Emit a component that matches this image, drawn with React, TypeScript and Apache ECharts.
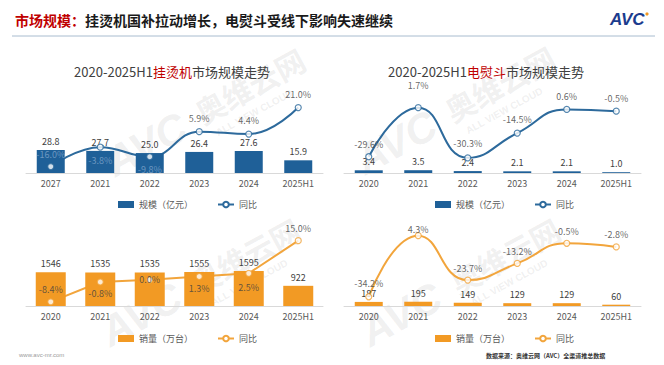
import React, { useEffect, useRef } from 'react';
import * as echarts from 'echarts';

// ---------- data ----------
const catsSteamerSize = ['2027', '2021', '2022', '2023', '2024', '2025H1'];
const catsOther = ['2020', '2021', '2022', '2023', '2024', '2025H1'];

const steamerSize = [28.8, 27.7, 25.0, 26.4, 27.6, 15.9];
const steamerSizeYoY = [-16.0, -3.8, -9.8, 5.9, 4.4, 21.0];

const ironSize = [3.4, 3.5, 2.4, 2.1, 2.1, 1.0];
const ironSizeYoY = [-29.6, 1.7, -30.3, -14.5, 0.6, -0.5];

const steamerVolume = [1546, 1535, 1535, 1555, 1595, 922];
const steamerVolumeYoY = [-8.4, -0.8, 0.0, 1.3, 2.5, 15.0];

const ironVolume = [187, 195, 149, 129, 129, 60];
const ironVolumeYoY = [-34.2, 4.3, -23.7, -13.2, -0.5, -2.8];

const sizeName = '规模（亿元）';
const volumeName = '销量（万台）';
const yoyName = '同比';

const BLUE = '#1f6098';
const BLUE_LINE = '#2d6a9c';
const ORANGE = '#f29a24';
const ORANGE_LINE = '#f2a53c';

type Pos = 'top' | 'bottom' | 'inside';

function panel(
  i: number,
  bars: number[],
  barDecimals: number,
  barName: string,
  barColor: string,
  barWidth: number,
  yoy: number[],
  lineColor: string,
  smooth: boolean | number,
  positions: Pos[],
  distances: number[],
  labelColors: (string | null)[]
) {
  return [
    {
      type: 'line',
      name: yoyName,
      xAxisIndex: i,
      yAxisIndex: i * 2 + 1,
      data: yoy,
      smooth,
      showSymbol: false,
      symbol: 'emptyCircle',
      symbolSize: 6,
      lineStyle: { width: 2, color: lineColor },
      itemStyle: { color: lineColor },
      z: 1,
    },
    {
      type: 'bar',
      name: barName,
      xAxisIndex: i,
      yAxisIndex: i * 2,
      data: bars,
      barWidth,
      itemStyle: { color: barColor },
      label: {
        show: true,
        position: 'top',
        distance: 4,
        fontSize: 9,
        color: '#404040',
        formatter: (p: any) => Number(p.value).toFixed(barDecimals),
      },
      z: 2,
    },
    {
      type: 'scatter',
      name: yoyName + '点' + i,
      xAxisIndex: i,
      yAxisIndex: i * 2 + 1,
      symbol: 'circle',
      symbolSize: 6,
      itemStyle: { color: '#ffffff', borderColor: lineColor, borderWidth: 1.2 },
      data: yoy.map((v, j) => ({
        value: v,
        label: {
          position: positions[j],
          distance: distances[j],
          ...(labelColors[j] ? { color: labelColors[j] } : {}),
        },
      })),
      label: {
        show: true,
        fontSize: 9,
        color: '#404040',
        formatter: (p: any) => Number(p.value).toFixed(1) + '%',
      },
      z: 3,
    },
  ];
}

function watermark(cx: number, cy: number) {
  const fill = 'rgba(150,150,150,0.15)';
  return {
    type: 'group',
    x: cx,
    y: cy,
    rotation: 0.5,
    z: 100,
    silent: true,
    children: [
      {
        type: 'text',
        x: -110,
        y: 0,
        style: {
          text: 'AVC',
          fontSize: 42,
          fontWeight: 'bold',
          fontStyle: 'italic',
          fontFamily: 'Liberation Sans, sans-serif',
          fill,
          verticalAlign: 'middle',
        },
      },
      {
        type: 'text',
        x: -8,
        y: -2,
        style: {
          text: '奥维云网',
          fontSize: 30,
          fontWeight: 'bold',
          fontFamily: 'Noto Sans CJK SC, sans-serif',
          fill,
          verticalAlign: 'middle',
        },
      },
      {
        type: 'text',
        x: 0,
        y: 24,
        style: {
          text: 'ALL VIEW CLOUD',
          fontSize: 10,
          fontWeight: 'bold',
          fontFamily: 'Liberation Sans, sans-serif',
          fill,
          verticalAlign: 'middle',
        },
      },
    ],
  };
}

function chartTitle(x: number, y: number, product: string) {
  return {
    type: 'text',
    x,
    y,
    z: 10,
    style: {
      text: '{a|2020-2025H1}{b|' + product + '}{a|市场规模走势}',
      align: 'center',
      verticalAlign: 'middle',
      rich: {
        a: { fontSize: 13, fill: '#404040', fontFamily: 'Noto Sans CJK SC, sans-serif' },
        b: { fontSize: 13, fill: '#c00000', fontFamily: 'Noto Sans CJK SC, sans-serif' },
      },
    },
  };
}

function legend(left: number, top: number, barName: string, barColor: string, lineColor: string) {
  return {
    left,
    top,
    orient: 'horizontal',
    itemWidth: 16,
    itemHeight: 7,
    itemGap: 24,
    selectedMode: false,
    textStyle: { fontSize: 9, color: '#595959' },
    data: [
      { name: barName, icon: 'rect', itemStyle: { color: barColor } },
      {
        name: yoyName,
        itemStyle: { color: lineColor },
        lineStyle: { color: lineColor, width: 2 },
      },
    ],
  };
}

export default function App() {
  const ref = useRef<HTMLDivElement>(null);

  useEffect(() => {
    if (!ref.current) return;
    const chart = echarts.init(ref.current, undefined, { renderer: 'svg' });

    const grids = [
      { left: 26, top: 90, width: 297, height: 83 },
      { left: 344, top: 90, width: 297, height: 83 },
      { left: 26, top: 225, width: 297, height: 81 },
      { left: 344, top: 225, width: 297, height: 81 },
    ];
    const xCats = [catsSteamerSize, catsOther, catsOther, catsOther];
    const yRanges: [number, number][] = [
      [0, 104], [-20, 32],
      [0, 104], [-40, 13],
      [0, 3700], [-10, 21],
      [0, 3700], [-40, 11],
    ];

    const faded = 'rgba(170,195,225,0.7)';

    const option: any = {
      animation: false,
      backgroundColor: '#ffffff',
      textStyle: { fontFamily: 'Noto Sans CJK SC, sans-serif' },
      grid: grids.map((g) => ({ ...g, containLabel: false })),
      xAxis: xCats.map((c, i) => ({
        type: 'category',
        gridIndex: i,
        data: c,
        boundaryGap: true,
        axisTick: { show: false },
        axisLine: { show: true, lineStyle: { color: '#d9d9d9', width: 1 } },
        axisLabel: { fontSize: 9, color: '#595959', margin: 6 },
        splitLine: { show: false },
      })),
      yAxis: yRanges.map((r, k) => ({
        type: 'value',
        gridIndex: Math.floor(k / 2),
        min: r[0],
        max: r[1],
        show: false,
        splitLine: { show: false },
      })),
      legend: [
        legend(113, 195, sizeName, BLUE, BLUE_LINE),
        legend(430, 195, sizeName, BLUE, BLUE_LINE),
        legend(113, 329, volumeName, ORANGE, ORANGE_LINE),
        legend(430, 329, volumeName, ORANGE, ORANGE_LINE),
      ],
      series: [
        ...panel(0, steamerSize, 1, sizeName, BLUE, 28, steamerSizeYoY, BLUE_LINE, 0.45,
          ['top', 'bottom', 'bottom', 'top', 'top', 'top'],
          [4, 5, 5, 5, 5, 5],
          [faded, faded, faded, null, null, null]),
        ...panel(1, ironSize, 1, sizeName, BLUE, 28, ironSizeYoY, BLUE_LINE, 0.5,
          ['top', 'top', 'top', 'top', 'top', 'top'],
          [4, 14, 6, 5, 5, 5],
          [null, null, null, null, null, null]),
        ...panel(2, steamerVolume, 0, volumeName, ORANGE, 30, steamerVolumeYoY, ORANGE_LINE, false,
          ['top', 'bottom', 'inside', 'bottom', 'bottom', 'top'],
          [4, 3, 0, 4, 6, 4],
          [null, null, null, null, null, null]),
        ...panel(3, ironVolume, 0, volumeName, ORANGE, 28, ironVolumeYoY, ORANGE_LINE, 0.5,
          ['top', 'top', 'top', 'top', 'top', 'top'],
          [5, -2, 4, 4, 4, 4],
          [null, null, null, null, null, null]),
      ],
      graphic: [
        {
          type: 'text',
          x: 15,
          y: 20,
          z: 10,
          style: {
            text: '{r|市场规模：}{k|挂烫机国补拉动增长，电熨斗受线下影响失速继续}',
            verticalAlign: 'middle',
            rich: {
              r: { fontSize: 14, fontWeight: 'bold', fill: '#c00000', fontFamily: 'Noto Sans CJK SC, sans-serif' },
              k: { fontSize: 14, fontWeight: 'bold', fill: '#1a1a1a', fontFamily: 'Noto Sans CJK SC, sans-serif' },
            },
          },
        },
        {
          type: 'line',
          z: 10,
          shape: { x1: 12, y1: 36, x2: 655, y2: 36 },
          style: { stroke: '#a8bccf', lineWidth: 1 },
        },
        {
          type: 'text',
          x: 610,
          y: 19,
          z: 10,
          style: {
            text: 'AVC',
            fontSize: 17,
            fontWeight: 'bold',
            fontStyle: 'italic',
            fontFamily: 'Liberation Sans, sans-serif',
            fill: '#1b3c8e',
            verticalAlign: 'middle',
          },
        },
        {
          type: 'circle',
          z: 11,
          shape: { cx: 647, cy: 14, r: 1.6 },
          style: { fill: '#f29a24' },
        },
        chartTitle(172, 71, '挂烫机'),
        chartTitle(486, 71, '电熨斗'),
        {
          type: 'text',
          x: 19,
          y: 355,
          z: 10,
          style: { text: 'www.avc-mr.com', fontSize: 6, fill: '#9a9a9a', verticalAlign: 'middle' },
        },
        {
          type: 'text',
          x: 486,
          y: 355,
          z: 10,
          style: {
            text: '数据来源：奥维云网（AVC）全渠道推总数据',
            fontSize: 6,
            fontWeight: 'bold',
            fill: '#333333',
            verticalAlign: 'middle',
            fontFamily: 'Noto Sans CJK SC, sans-serif',
          },
        },
        watermark(205, 112),
        watermark(455, 110),
        watermark(200, 282),
        watermark(460, 282),
      ],
    };

    chart.setOption(option);
    return () => chart.dispose();
  }, []);

  return (
    <div
      ref={ref}
      style={{ position: 'absolute', left: 0, top: 0, width: 664, height: 365, background: '#fff' }}
    />
  );
}
